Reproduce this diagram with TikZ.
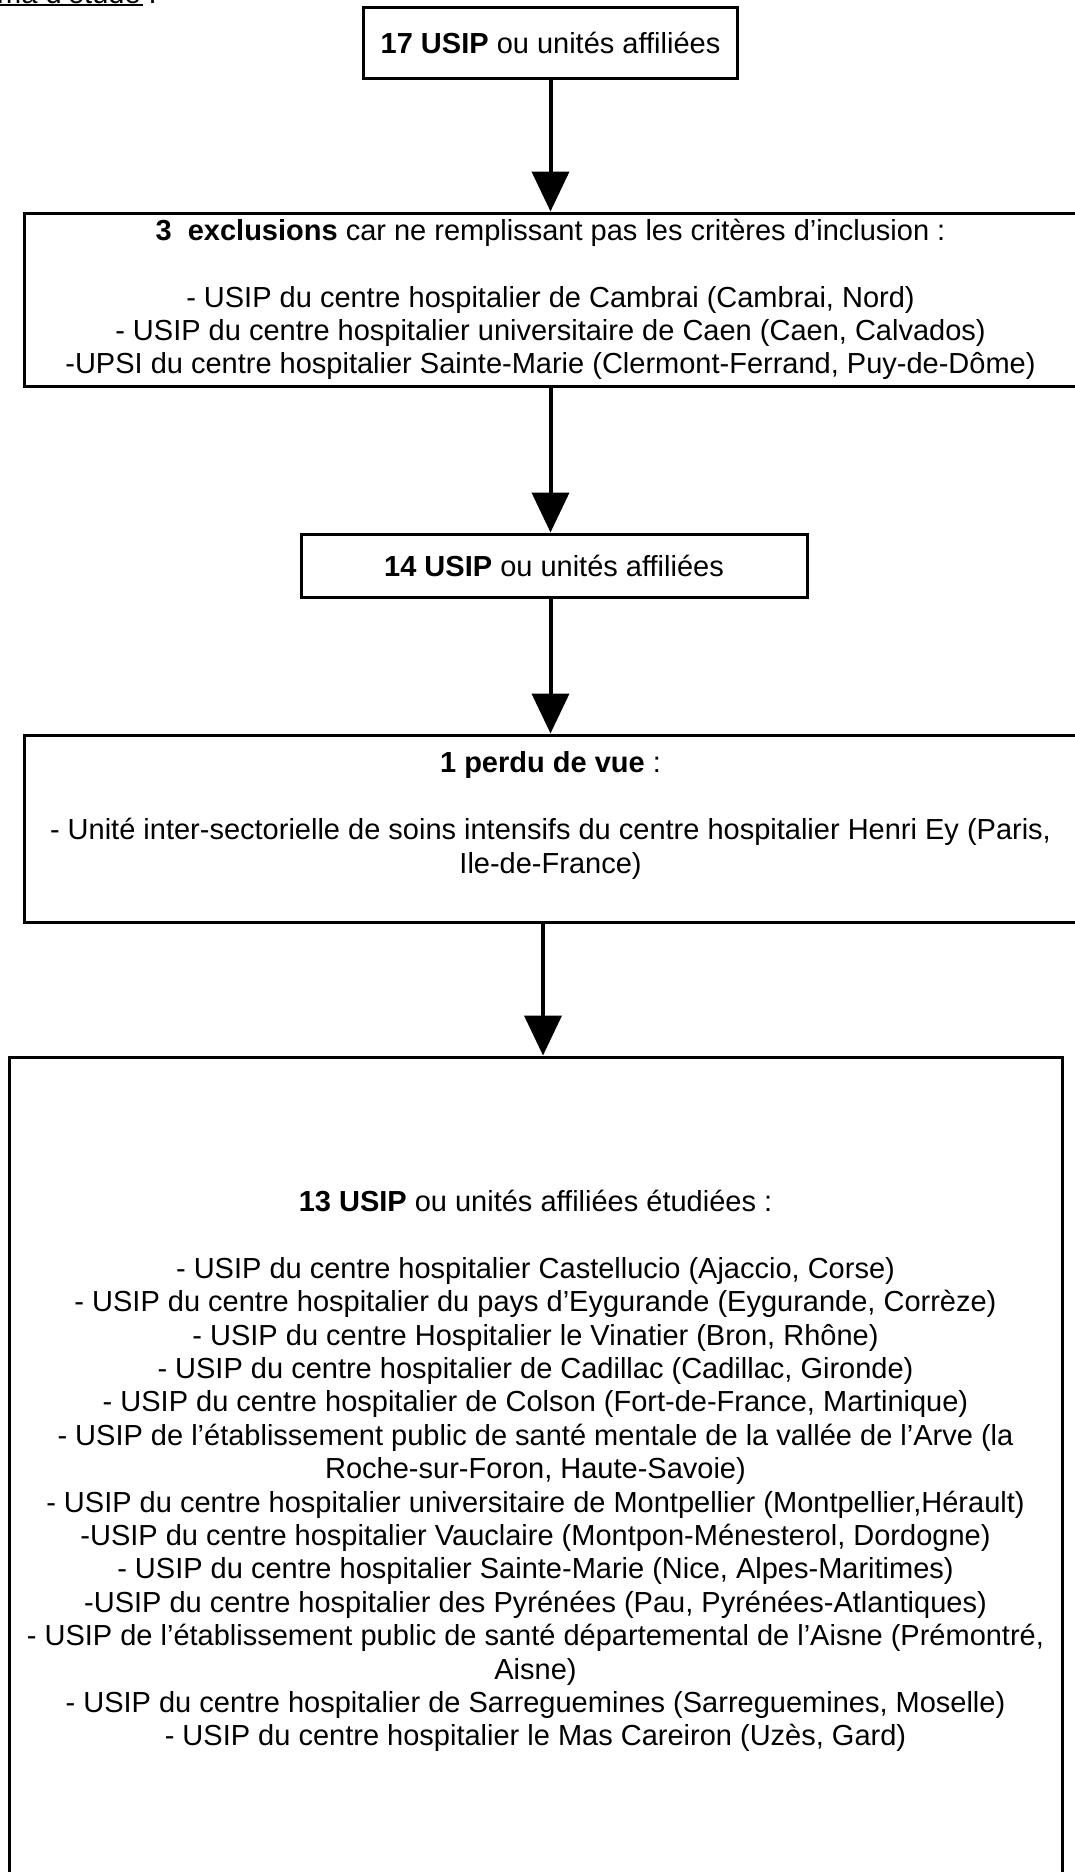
\documentclass[tikz,border=0pt]{standalone}
\usepackage{fontspec}
\setmainfont{Liberation Sans}
\usepackage[]{xcolor}
\usepackage{tikz}
\usetikzlibrary{arrows.meta}

\begin{document}
\begin{tikzpicture}[x=1pt,y=-1pt,
        every node/.style={font=\fontsize{29}{33.4}\selectfont},
        cadre/.style={draw,line width=3pt,inner sep=0pt,align=center},
        fleche/.style={line width=4pt,-{Triangle[width=37pt,length=40pt]}}]
        \useasboundingbox (0,0) rectangle (1074,1872);
        \node[anchor=base east,inner sep=0pt] (titre) at (157,3) {Schéma d’étude :};
        \draw[line width=1.5pt] ([yshift=-1.8pt]titre.base west) -- ([xshift=-14pt,yshift=-1.8pt]titre.base east);
        \node[cadre,minimum width=374pt,minimum height=71pt] (b1) at (550.5,43) {\textbf{17 USIP} ou unités affiliées};
        \node[cadre,minimum width=1053pt,minimum height=173pt] (b2) at (550.5,299.5) {\textbf{3~~exclusions} car ne remplissant pas les critères d’inclusion :\\[33.4pt]
                - USIP du centre hospitalier de Cambrai (Cambrai, Nord)\\
                - USIP du centre hospitalier universitaire de Caen (Caen, Calvados)\\
                -UPSI du centre hospitalier Sainte-Marie (Clermont-Ferrand, Puy-de-Dôme)};
        \node[cadre,minimum width=506pt,minimum height=63pt] (b3) at (554,565.5) {\textbf{14 USIP} ou unités affiliées};
        \node[cadre,minimum width=1053pt,minimum height=187pt] (b4) at (550.5,828.5) {};
        \node[align=center,inner sep=0pt] (t4) at (550.5,815.5) {\textbf{1 perdu de vue} :\\[33.4pt]
                - Unité inter-sectorielle de soins intensifs du centre hospitalier Henri Ey (Paris,\\
                Ile-de-France)};
        \node[cadre,minimum width=1053pt,minimum height=828pt] (b5) at (535.5,1471) {\textbf{13 USIP} ou unités affiliées étudiées :\\[33.4pt]
                - USIP du centre hospitalier Castellucio (Ajaccio, Corse)\\
                - USIP du centre hospitalier du pays d’Eygurande (Eygurande, Corrèze)\\
                - USIP du centre Hospitalier le Vinatier (Bron, Rhône)\\
                - USIP du centre hospitalier de Cadillac (Cadillac, Gironde)\\
                - USIP du centre hospitalier de Colson (Fort-de-France, Martinique)\\
                - USIP de l’établissement public de santé mentale de la vallée de l’Arve (la\\
                Roche-sur-Foron, Haute-Savoie)\\
                - USIP du centre hospitalier universitaire de Montpellier (Montpellier,Hérault)\\
                -USIP du centre hospitalier Vauclaire (Montpon-Ménesterol, Dordogne)\\
                - USIP du centre hospitalier Sainte-Marie (Nice, Alpes-Maritimes)\\
                -USIP du centre hospitalier des Pyrénées (Pau, Pyrénées-Atlantiques)\\
                - USIP de l’établissement public de santé départemental de l’Aisne (Prémontré,\\
                Aisne)\\
                - USIP du centre hospitalier de Sarreguemines (Sarreguemines, Moselle)\\
                - USIP du centre hospitalier le Mas Careiron (Uzès, Gard)};
        \draw[fleche] (b1) -- (b2);
        \draw[fleche] (b2.south) -- (b2.south |- b3.north);
        \draw[fleche] (b3.south -| b4.north) -- (b4.north);
        \draw[fleche] ([xshift=-7.5pt]b4.south) -- ([xshift=-7.5pt]b4.south |- b5.north);
\end{tikzpicture}
\end{document}
